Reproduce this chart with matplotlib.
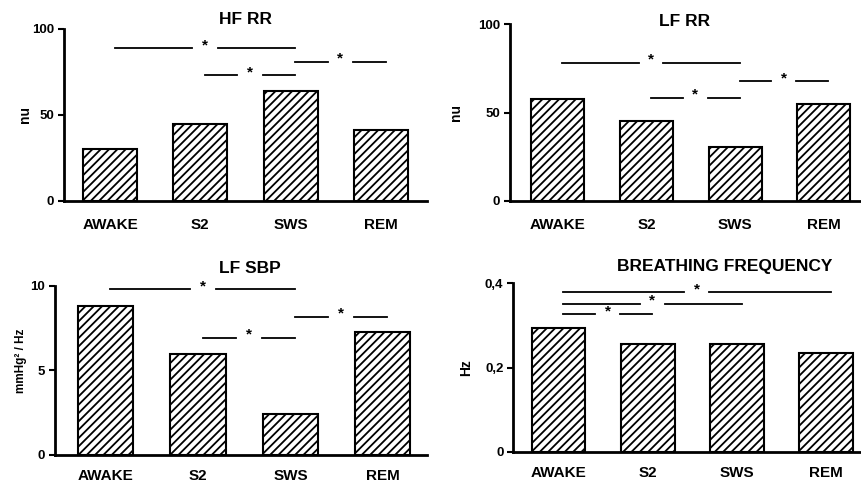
import matplotlib
matplotlib.use('Agg')
import matplotlib.pyplot as plt

plt.rcParams['font.family'] = ['Liberation Sans', 'DejaVu Sans']
plt.rcParams['font.weight'] = 'bold'
plt.rcParams['hatch.linewidth'] = 1.3

stages = ['AWAKE', 'S2', 'SWS', 'REM']

hf_rr = [30, 44.5, 64, 41]
lf_rr = [57.7, 45.5, 30.7, 54.7]
lf_sbp = [8.8, 6.0, 2.45, 7.26]
breathing = [0.295, 0.255, 0.255, 0.234]

# significant pairs: (from stage, to stage, height)
hf_rr_sig = [(0, 2, 89), (1, 2, 73), (2, 3, 81)]
lf_rr_sig = [(0, 2, 78.3), (1, 2, 58.5), (2, 3, 68)]
lf_sbp_sig = [(0, 2, 9.8), (1, 2, 6.94), (2, 3, 8.18)]
breathing_sig = [(0, 3, 0.379), (0, 2, 0.352), (0, 1, 0.327)]


def draw_panel(ax, values, sig, title, ylabel, yticks, yticklabels, xlim, title_x, title_pad,
               label_x, xpad=12, ylabel_size=10):
    x = range(len(stages))
    ax.bar(x, values, width=0.6, color='white', edgecolor='black', linewidth=1.5, hatch='////')
    ax.set_xlim(*xlim)
    ax.set_ylim(0, yticks[-1])
    ax.set_xticks(list(x))
    ax.set_xticklabels(stages, fontsize=11, fontweight='bold')
    ax.set_yticks(yticks)
    ax.set_yticklabels(yticklabels, fontsize=9.5, fontweight='bold')
    ax.tick_params(axis='x', length=0, pad=xpad)
    ax.tick_params(axis='y', length=4, width=1.5, pad=3)
    for s in ['top', 'right']:
        ax.spines[s].set_visible(False)
    ax.spines['left'].set_linewidth(2)
    ax.spines['bottom'].set_linewidth(2)
    ax.set_title(title, fontsize=12.5, fontweight='bold', x=title_x, y=1.0, pad=title_pad)
    ax.set_ylabel(ylabel, fontsize=ylabel_size, fontweight='bold')
    ax.yaxis.set_label_coords(label_x, 0.5)
    for i, j, h in sig:
        mid = (i + j) / 2 + 0.05
        ax.plot([i + 0.05, mid - 0.14], [h, h], color='black', lw=1.3)
        ax.plot([mid + 0.14, j + 0.05], [h, h], color='black', lw=1.3)
        ax.annotate('*', (mid, h), xytext=(0, 2), textcoords='offset points',
                    ha='center', va='center', fontsize=11, fontweight='bold')


fig = plt.figure(figsize=(8.61, 4.83), dpi=100)

ax1 = fig.add_axes([0.0743, 0.5839, 0.4217, 0.3561])
draw_panel(ax1, hf_rr, hf_rr_sig, 'HF RR', 'nu', [0, 50, 100], ['0', '50', '100'],
           (-0.51, 3.51), 0.5, 3.6, -0.088)

ax2 = fig.add_axes([0.5923, 0.5839, 0.4067, 0.3658])
draw_panel(ax2, lf_rr, lf_rr_sig, 'LF RR', 'nu', [0, 50, 100], ['0', '50', '100'],
           (-0.54, 3.41), 0.5, -1.2, -0.134)

ax3 = fig.add_axes([0.0639, 0.058, 0.4321, 0.35])
draw_panel(ax3, lf_sbp, lf_sbp_sig, 'LF SBP', 'mmHg² / Hz', [0, 5, 10], ['0', '5', '10'],
           (-0.55, 3.48), 0.524, 9.4, -0.075, xpad=10, ylabel_size=8.5)
ax3.yaxis.set_label_coords(-0.075, 0.56)

ax4 = fig.add_axes([0.596, 0.0642, 0.403, 0.3493])
draw_panel(ax4, breathing, breathing_sig, 'BREATHING FREQUENCY', 'Hz', [0, 0.2, 0.4],
           ['0', '0,2', '0,4'], (-0.51, 3.38), 0.61, 8.9, -0.115, xpad=10)

fig.savefig('out.png', dpi=100)
